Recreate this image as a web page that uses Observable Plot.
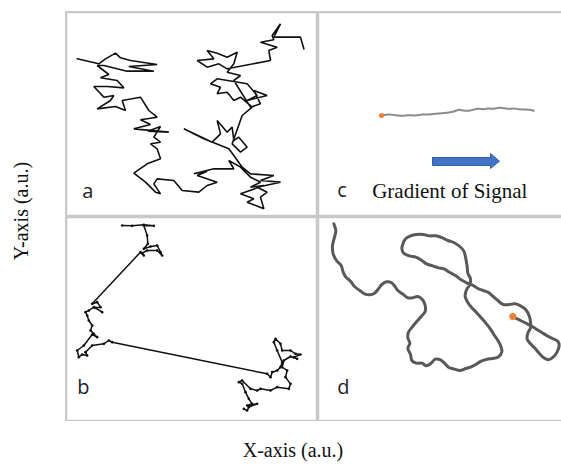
<!DOCTYPE html>
<html><head><meta charset="utf-8">
<script src="https://cdn.jsdelivr.net/npm/d3@7"></script>
<script src="https://cdn.jsdelivr.net/npm/@observablehq/plot@0.6"></script>
<style>
body{margin:0;background:#fff;overflow:hidden;}
#fig{position:relative;width:561px;height:465px;overflow:hidden;background:#fff;}
.panel{position:absolute;width:252px;height:205px;overflow:hidden;}
.panel.right{width:244px;}
.panel svg{display:block;max-width:none;}
.lab{position:absolute;font-family:"Liberation Serif",serif;font-size:20px;color:#111;white-space:nowrap;line-height:1;}
</style></head><body>
<div id="fig"></div>
<script>
// ---- data (arbitrary units) ----
const trackA = [[50,175],[115,190],[135,175],[165,158],[180,172],[210,180],[290,192],[205,198],[280,212],[200,212],[130,195],[110,195],[145,222],[120,232],[170,240],[190,262],[140,258],[100,258],[130,290],[160,285],[150,300],[110,325],[165,318],[195,330],[185,300],[240,290],[265,330],[290,350],[240,358],[270,372],[220,385],[325,395],[262,392],[300,378],[280,410],[300,425],[270,430],[290,445],[300,475],[260,490],[220,518],[255,545],[285,575],[300,580],[280,550],[290,535],[340,540],[365,570],[415,575],[440,555],[470,545],[410,525],[440,512],[400,520],[460,505],[520,505],[505,480],[540,500],[570,530],[600,545],[570,560],[610,555],[540,580],[580,595],[560,605],[610,625],[600,590],[620,575],[590,560],[660,545],[600,540],[640,525],[570,520],[545,500],[520,465],[505,445],[430,415],[370,385],[455,425],[480,400],[470,360],[500,395],[515,380],[520,420],[535,410],[560,440],[540,455],[515,430],[545,345],[575,320],[540,290],[520,300],[500,275],[470,280],[480,260],[450,250],[470,235],[560,250],[590,285],[560,300],[620,285],[580,270],[600,310],[570,320],[520,240],[540,225],[500,215],[520,190],[530,155],[500,170],[470,158],[440,150],[460,175],[410,180],[440,200],[475,190],[500,205],[630,180],[625,150],[650,140],[600,125],[640,118],[635,105],[660,70],[640,110],[680,110],[720,110],[730,145]];

const trackB = [[185,45],[215,46],[250,43],[280,46],[250,45],[260,75],[262,100],[250,115],[270,108],[290,105],[300,125],[305,135],[290,120],[260,120],[245,128],[250,135],[240,125],[95,280],[110,275],[120,290],[105,292],[125,305],[100,290],[85,300],[75,305],[80,315],[85,330],[95,345],[90,360],[100,370],[110,380],[95,372],[70,405],[50,420],[55,440],[65,432],[80,435],[75,425],[95,405],[130,400],[145,390],[155,395],[620,490],[630,500],[635,485],[650,480],[660,470],[665,455],[650,420],[640,395],[645,385],[660,400],[665,420],[690,420],[705,430],[720,432],[700,440],[710,445],[690,438],[670,450],[665,470],[680,480],[675,500],[690,520],[685,535],[650,530],[630,540],[600,535],[590,540],[570,535],[545,510],[535,515],[545,520],[555,545],[565,565],[575,580],[560,585],[590,580],[565,590],[560,600],[550,595]];

const trackC = [[215,345],[235,342],[255,344],[275,346],[295,344],[315,345],[335,342],[355,342],[375,340],[395,338],[415,336],[430,333],[445,328],[460,330],[475,331],[490,327],[505,325],[520,326],[535,324],[550,325],[565,322],[580,323],[595,325],[610,324],[625,326],[640,327],[655,328],[670,331]];

const trackD = [[70,40],[76,60],[72,80],[66,105],[68,130],[78,150],[92,165],[98,185],[106,200],[120,212],[132,228],[148,240],[162,250],[178,253],[192,248],[204,235],[214,222],[228,214],[242,216],[252,226],[262,240],[276,250],[292,262],[306,262],[322,258],[336,268],[344,285],[344,303],[332,318],[318,334],[305,350],[294,365],[292,382],[298,398],[292,414],[300,432],[304,450],[318,458],[334,458],[348,466],[362,458],[374,446],[390,448],[402,458],[414,470],[432,476],[448,480],[466,474],[480,470],[496,462],[512,452],[530,446],[546,444],[562,440],[574,424],[570,405],[562,390],[550,372],[540,356],[526,338],[512,322],[498,306],[484,292],[472,276],[464,258],[468,238],[478,222],[480,205],[472,188],[470,168],[466,145],[460,122],[448,108],[430,96],[412,90],[396,82],[376,76],[356,76],[338,72],[318,72],[300,76],[286,84],[278,98],[274,114],[280,128],[296,136],[316,140],[334,150],[348,160],[366,166],[384,172],[402,176],[418,186],[436,196],[452,208],[470,218],[486,224],[502,234],[518,240],[534,246],[548,258],[562,270],[578,282],[596,282],[614,280],[630,286],[646,298],[656,316],[660,334],[660,352],[652,368],[650,386],[660,400],[672,412],[686,428],[700,442],[714,448],[728,440],[740,424],[746,406],[742,392],[726,384],[710,376],[694,366],[678,356],[662,346],[646,338],[630,330],[618,324],[606,318]];

const startC = [[213,345]];
const startD = [[607,318]];
const gradientArrow = [[366,471],[540,471],[540,459],[567,482],[540,504],[540,495],[366,495],[366,471]];

const panelLabels = {a:[65,592], b:[50,550], c:[80,590], d:[80,550]};
const gradientText = {text:"Gradient of Signal", at:[185,592]};
const xLabel = "X-axis (a.u.)";
const yLabel = "Y-axis (a.u.)";

// ---- drawing ----
const X = d => d[0], Y = d => d[1];
function panel(xDomain, yDomain, marks) {
  return Plot.plot({
    width: 252, height: 205, margin: 0,
    x: {domain: xDomain, axis: null},
    y: {domain: yDomain, reverse: true, axis: null},
    marks: [...marks, Plot.frame({stroke: "#c8c8c8", strokeWidth: 3.5})]
  });
}
function letter(key) {
  const [x, y] = panelLabels[key];
  return Plot.text([key], {x: () => x, y: () => y, text: d => d, textAnchor: "start", lineAnchor: "bottom",
    fontFamily: "Open Sans, sans-serif", fontSize: 20, fill: "#222"});
}

const pa = panel([15, 771], [33, 648], [
  Plot.line(trackA, {x: X, y: Y, stroke: "#111", strokeWidth: 1.6, strokeLinejoin: "miter"}),
  letter("a")
]);
const pc = panel([21, 777], [33, 648], [
  Plot.line(trackC, {x: X, y: Y, stroke: "#8c8c8c", strokeWidth: 2, curve: "catmull-rom"}),
  Plot.dot(startC, {x: X, y: Y, r: 2.5, fill: "#ed7d31", stroke: "none"}),
  Plot.line(gradientArrow, {x: X, y: Y, fill: "#4472c4", stroke: "#3560a8", strokeWidth: 1}),
  letter("c"),
  Plot.text([gradientText], {x: d => d.at[0], y: d => d.at[1], text: "text", textAnchor: "start", lineAnchor: "bottom",
    fontFamily: "Liberation Serif, serif", fontSize: 21, fill: "#111"})
]);
const pb = panel([15, 771], [18, 633], [
  Plot.line(trackB, {x: X, y: Y, stroke: "#111", strokeWidth: 1.5}),
  Plot.dot(trackB, {x: X, y: Y, r: 1.3, fill: "#111", stroke: "none"}),
  letter("b")
]);
const pd = panel([21, 777], [18, 633], [
  Plot.line(trackD, {x: X, y: Y, stroke: "#505050", strokeWidth: 3, curve: "catmull-rom", strokeOpacity: 0.95}),
  Plot.dot(startD, {x: X, y: Y, r: 3.5, fill: "#ed7d31", stroke: "none"}),
  letter("d")
]);

const fig = document.getElementById("fig");
const place = [[pa, 65, 11, false], [pc, 317, 11, true], [pb, 65, 216, false], [pd, 317, 216, true]];
for (const [svg, left, top, right] of place) {
  const div = document.createElement("div");
  div.className = right ? "panel right" : "panel";
  div.style.left = left + "px";
  div.style.top = top + "px";
  div.appendChild(svg);
  fig.appendChild(div);
}
const xl = document.createElement("div");
xl.className = "lab"; xl.textContent = xLabel;
xl.style.left = "293px"; xl.style.top = "440px"; xl.style.transform = "translateX(-50%)";
fig.appendChild(xl);
const yl = document.createElement("div");
yl.className = "lab"; yl.textContent = yLabel;
yl.style.left = "21px"; yl.style.top = "211px"; yl.style.transform = "translate(-50%,-50%) rotate(-90deg)";
fig.appendChild(yl);
</script>
</body></html>
